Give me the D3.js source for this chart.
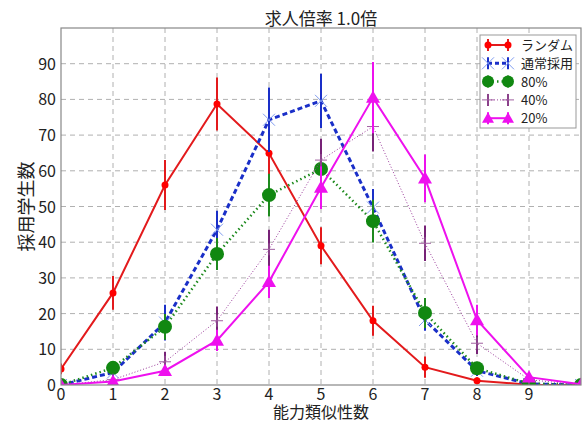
<!DOCTYPE html>
<html>
<head>
<meta charset="utf-8">
<script src="https://cdn.jsdelivr.net/npm/d3@7"></script>
<style>
body { margin: 0; background: #fff; }
text { font-family: "Noto Sans CJK JP", "Noto Sans", sans-serif; }
</style>
</head>
<body>
<div id="chart"></div>
<script>
// chart data
var title = "求人倍率 1.0倍";
var xLabel = "能力類似性数";
var yLabel = "採用学生数";
var xValues = [0, 1, 2, 3, 4, 5, 6, 7, 8, 9, 10];
var xTickLabels = ["0", "1", "2", "3", "4", "5", "6", "7", "8", "9", ""];
var yTickLabels = ["0", "10", "20", "30", "40", "50", "60", "70", "80", "90", ""];
var seriesNames = ["ランダム", "通常採用", "80%", "40%", "20%"];

var randomMean = [4.5, 25.8, 56, 78.7, 64.9, 39, 18, 5, 1.2, 0.1, 0];
var randomErr = [1.5, 4.7, 7, 7.4, 6.5, 5.2, 4.2, 3, 1, 0.3, 0];
var normalMean = [0, 3.5, 17.5, 43.5, 74.3, 79.6, 49.7, 18.2, 4, 0.3, 0];
var normalErr = [0.3, 1.5, 5, 5.3, 9, 7.6, 5.2, 3, 1.5, 0.5, 0];
var p80Mean = [0, 4.8, 16.3, 36.7, 53.2, 60.5, 45.9, 20.2, 4.7, 0.4, 0];
var p80Err = [0.3, 1.5, 3.6, 4.5, 6, 5, 6, 4.2, 1.5, 0.5, 0];
var p40Mean = [0, 1.5, 6.5, 18, 38, 63, 72.4, 39.7, 11.7, 1.5, 0];
var p40Err = [0.2, 1, 2.8, 4, 5.5, 6, 7, 5, 3, 1, 0];
var p20Mean = [0, 1, 4, 12.5, 28.9, 55.3, 80.5, 57.9, 18.2, 2.2, 0.2];
var p20Err = [0.2, 0.7, 1.2, 3, 4.5, 6, 10, 6.7, 4.3, 1, 0];

var width = 584;
var height = 423;
var pLeft = 61, pRight = 581, pTop = 28, pBottom = 385;

var svg = d3.select("#chart").append("svg").attr("width", width).attr("height", height);

var x = d3.scaleLinear().domain([0, 10]).range([pLeft, pRight]);
var y = d3.scaleLinear().domain([0, 100]).range([pBottom, pTop]);

// styles per series
var styles = [
	{ color: "#e31a1c", dash: null, width: 2, marker: "circle", size: 3.5, mColor: "#ff0000", errW: 2 },
	{ color: "#1a2fc8", dash: "5,3", width: 3, marker: "x", size: 6, mColor: "#7f9cf0", errW: 2 },
	{ color: "#1e8a1e", dash: "1.5,3", width: 2.5, marker: "circle", size: 7, mColor: "#118811", errW: 2 },
	{ color: "#9a3a9a", dash: "1,2", width: 1, marker: "plus", size: 6, mColor: "#a060a0", errW: 2, eColor: "#772277" },
	{ color: "#ee11ee", dash: null, width: 2, marker: "triangle", size: 7, mColor: "#ee11ee", errW: 2 }
];
var means = [randomMean, normalMean, p80Mean, p40Mean, p20Mean];
var errs = [randomErr, normalErr, p80Err, p40Err, p20Err];

// grid
var grid = svg.append("g");
grid.selectAll("line.v").data(xValues.slice(1, 10)).enter().append("line")
	.attr("x1", function(d) { return x(d); }).attr("x2", function(d) { return x(d); })
	.attr("y1", pTop).attr("y2", pBottom)
	.attr("stroke", "#b0b0b0").attr("stroke-dasharray", "5,4").attr("stroke-width", 1);
grid.selectAll("line.h").data(d3.range(10, 100, 10)).enter().append("line")
	.attr("y1", function(d) { return y(d); }).attr("y2", function(d) { return y(d); })
	.attr("x1", pLeft).attr("x2", pRight)
	.attr("stroke", "#b0b0b0").attr("stroke-dasharray", "5,4").attr("stroke-width", 1);

svg.append("clipPath").attr("id", "plotclip").append("rect")
	.attr("x", pLeft).attr("y", pTop).attr("width", pRight - pLeft).attr("height", pBottom - pTop);

function drawMarker(g, type, cx, cy, s, color) {
	if (type == "circle") {
		g.append("circle").attr("cx", cx).attr("cy", cy).attr("r", s).attr("fill", color);
	} else if (type == "x") {
		g.append("path").attr("d", "M" + (cx - s) + "," + (cy - s) + "L" + (cx + s) + "," + (cy + s) +
			"M" + (cx - s) + "," + (cy + s) + "L" + (cx + s) + "," + (cy - s))
			.attr("stroke", color).attr("stroke-width", 1).attr("fill", "none");
	} else if (type == "plus") {
		g.append("path").attr("d", "M" + (cx - s) + "," + cy + "L" + (cx + s) + "," + cy +
			"M" + cx + "," + (cy - s) + "L" + cx + "," + (cy + s))
			.attr("stroke", color).attr("stroke-width", 1).attr("fill", "none");
	} else if (type == "triangle") {
		g.append("path").attr("d", "M" + cx + "," + (cy - s) + "L" + (cx + s) + "," + (cy + s * 0.75) +
			"L" + (cx - s) + "," + (cy + s * 0.75) + "Z").attr("fill", color);
	}
}

var plot = svg.append("g").attr("clip-path", "url(#plotclip)");
var line = d3.line().x(function(d, i) { return x(xValues[i]); }).y(function(d) { return y(d); });

for (var k = 0; k < means.length; k++) {
	var st = styles[k];
	var g = plot.append("g");
	var path = g.append("path").datum(means[k]).attr("d", line)
		.attr("fill", "none").attr("stroke", st.color).attr("stroke-width", st.width);
	if (st.dash) path.attr("stroke-dasharray", st.dash);
	// error bars
	for (var i = 0; i < xValues.length; i++) {
		g.append("line")
			.attr("x1", x(xValues[i])).attr("x2", x(xValues[i]))
			.attr("y1", y(means[k][i] - errs[k][i])).attr("y2", y(means[k][i] + errs[k][i]))
			.attr("stroke", st.eColor || st.color).attr("stroke-width", st.errW);
	}
	for (var i = 0; i < xValues.length; i++) {
		drawMarker(g, st.marker, x(xValues[i]), y(means[k][i]), st.size, st.mColor);
	}
}

// frame
svg.append("rect").attr("x", pLeft).attr("y", pTop).attr("width", pRight - pLeft).attr("height", pBottom - pTop)
	.attr("fill", "none").attr("stroke", "#888").attr("stroke-width", 1.2);

// tick labels
svg.selectAll("text.xt").data(xValues).enter().append("text")
	.attr("x", function(d) { return x(d); }).attr("y", 400)
	.attr("text-anchor", "middle").attr("font-size", 16).attr("fill", "#222")
	.text(function(d, i) { return xTickLabels[i]; });
svg.selectAll("text.yt").data(d3.range(0, 101, 10)).enter().append("text")
	.attr("x", 56).attr("y", function(d) { return y(d) + 6; })
	.attr("text-anchor", "end").attr("font-size", 16).attr("fill", "#222")
	.text(function(d, i) { return yTickLabels[i]; });

// title and axis labels
svg.append("text").attr("x", (pLeft + pRight) / 2).attr("y", 25).attr("text-anchor", "middle")
	.attr("font-size", 17).attr("fill", "#222").text(title);
svg.append("text").attr("x", (pLeft + pRight) / 2).attr("y", 418).attr("text-anchor", "middle")
	.attr("font-size", 16).attr("fill", "#222").text(xLabel);
svg.append("text").attr("transform", "translate(33," + ((pTop + pBottom) / 2) + ") rotate(-90)")
	.attr("text-anchor", "middle").attr("font-size", 18).attr("fill", "#222").text(yLabel);

// legend
var lg = svg.append("g");
lg.append("rect").attr("x", 480).attr("y", 35).attr("width", 96).attr("height", 93)
	.attr("fill", "#fff").attr("stroke", "#999").attr("stroke-width", 1);
for (var k = 0; k < seriesNames.length; k++) {
	var st = styles[k];
	var ly = 45 + k * 18.3;
	var x1 = 488, x2 = 508;
	var seg = lg.append("line").attr("x1", x1).attr("x2", x2).attr("y1", ly).attr("y2", ly)
		.attr("stroke", st.color).attr("stroke-width", st.width);
	if (st.dash) seg.attr("stroke-dasharray", st.dash == "5,3" ? "4,3" : st.dash);
	[x1, x2].forEach(function(px) {
		lg.append("line").attr("x1", px).attr("x2", px).attr("y1", ly - 6).attr("y2", ly + 6)
			.attr("stroke", st.eColor || st.color).attr("stroke-width", st.errW);
		drawMarker(lg, st.marker, px, ly, Math.min(st.size, 6), st.mColor);
	});
	lg.append("text").attr("x", 521).attr("y", ly + 5).attr("font-size", 13).attr("fill", "#222")
		.text(seriesNames[k]);
}
</script>
</body>
</html>
